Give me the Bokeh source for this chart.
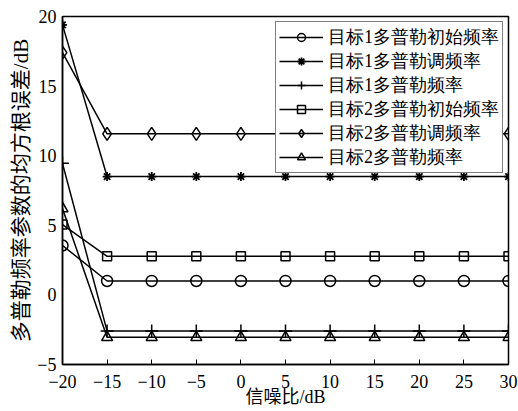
from bokeh.plotting import figure
from bokeh.models import FixedTicker, Legend, LegendItem, Range1d
from bokeh.embed import file_html
from bokeh.resources import INLINE

snr = [-20, -15, -10, -5, 0, 5, 10, 15, 20, 25, 30]
t1_init = [3.55, 1.0, 1.0, 1.0, 1.0, 1.0, 1.0, 1.0, 1.0, 1.0, 1.0]
t1_chirp = [19.4, 8.5, 8.5, 8.5, 8.5, 8.5, 8.5, 8.5, 8.5, 8.5, 8.5]
t1_freq = [9.45, -2.6, -2.6, -2.6, -2.6, -2.6, -2.6, -2.6, -2.6, -2.6, -2.6]
t2_init = [5.05, 2.77, 2.77, 2.77, 2.77, 2.77, 2.77, 2.77, 2.77, 2.77, 2.77]
t2_chirp = [17.4, 11.57, 11.57, 11.57, 11.57, 11.57, 11.57, 11.57, 11.57, 11.57, 11.57]
t2_freq = [6.2, -3.05, -3.05, -3.05, -3.05, -3.05, -3.05, -3.05, -3.05, -3.05, -3.05]

labels = ["目标1多普勒初始频率", "目标1多普勒调频率", "目标1多普勒频率",
          "目标2多普勒初始频率", "目标2多普勒调频率", "目标2多普勒频率"]

x_ticks = [-20, -15, -10, -5, 0, 5, 10, 15, 20, 25, 30]
x_tick_labels = ["\u221220", "\u221215", "\u221210", "\u22125", "0", "5", "10", "15", "20", "25", "30"]
y_ticks = [-5, 0, 5, 10, 15, 20]
y_tick_labels = ["\u22125", "0", "5", "10", "15", "20"]

x_title = "信噪比/dB"
y_title = "多普勒频率参数的均方根误差/dB"

FONT = "'Liberation Serif', 'Noto Sans CJK SC'"

p = figure(width=518, height=411, x_range=Range1d(-20, 30), y_range=Range1d(-5, 20),
           output_backend="svg", toolbar_location=None,
           min_border_left=62, min_border_right=10, min_border_top=16, min_border_bottom=47)
p.grid.visible = False
p.outline_line_color = "black"
p.outline_line_width = 1.5
p.background_fill_color = "white"
p.border_fill_color = "white"

for ax in (p.xaxis[0], p.yaxis[0]):
    ax.axis_line_width = 1.5
    ax.axis_line_color = "black"
    ax.minor_tick_in = 0
    ax.minor_tick_out = 0
    ax.major_label_text_font = FONT
    ax.major_label_text_font_size = "18px"
    ax.major_label_text_color = "black"
    ax.axis_label_text_font = FONT
    ax.axis_label_text_font_style = "normal"
    ax.axis_label_text_color = "black"

p.xaxis.ticker = FixedTicker(ticks=x_ticks)
p.xaxis.major_label_overrides = dict(zip(x_ticks, x_tick_labels))
p.xaxis.major_tick_in = 5
p.xaxis.major_tick_out = 0
p.xaxis.major_label_standoff = 10
p.xaxis.axis_label = x_title
p.xaxis.axis_label_text_font_size = "18px"
p.xaxis.axis_label_standoff = -4

p.yaxis.ticker = FixedTicker(ticks=y_ticks)
p.yaxis.major_label_overrides = dict(zip(y_ticks, y_tick_labels))
p.yaxis.major_tick_in = 0
p.yaxis.major_tick_out = 0
p.yaxis.major_label_standoff = 6
p.yaxis.axis_label = y_title
p.yaxis.axis_label_text_font_size = "21px"
p.yaxis.axis_label_standoff = 1

series = [t1_init, t1_chirp, t1_freq, t2_init, t2_chirp, t2_freq]
markers = ["circle", "asterisk", "cross", "square", "diamond", "triangle"]
sizes = [11, 9, 13, 9, 13, 11]

items = []
for ys, mk, sz, lab in zip(series, markers, sizes, labels):
    lr = p.line(snr, ys, line_color="black", line_width=1.5)
    sr = p.scatter(snr, ys, marker=mk, size=sz, line_color="black", fill_color=None,
                   line_width=1.8 if mk == "asterisk" else 1.5)
    items.append(LegendItem(label=lab, renderers=[lr, sr]))

legend = Legend(items=items, location="top_right")
legend.border_line_color = "black"
legend.border_line_width = 1.5
legend.background_fill_color = "white"
legend.background_fill_alpha = 1
legend.label_text_font = "Liberation Serif"
legend.label_text_font_size = "18px"
legend.label_text_color = "black"
legend.glyph_width = 44
legend.glyph_height = 20
legend.label_height = 14
legend.label_standoff = 5
legend.spacing = 0
legend.padding = 3
legend.margin = 5
p.add_layout(legend)

open("out.html", "w").write(file_html(p, INLINE))
